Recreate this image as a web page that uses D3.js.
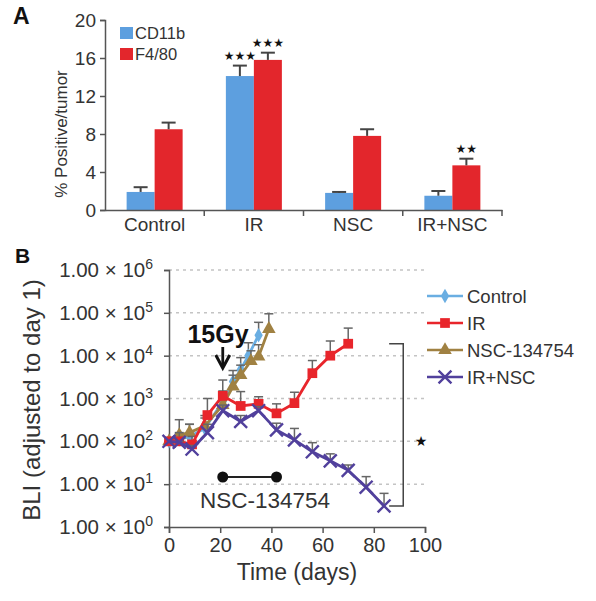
<!DOCTYPE html>
<html>
<head>
<meta charset="utf-8">
<script src="https://cdn.jsdelivr.net/npm/d3@7"></script>
<style>
html,body{margin:0;padding:0;background:#fff;}
svg{display:block;font-family:"Liberation Sans",Arial,Helvetica,sans-serif;}
</style>
</head>
<body>
<svg id="chart" width="596" height="601"></svg>
<script>
// ---------- Panel A data ----------
const categories = ["Control", "IR", "NSC", "IR+NSC"];
const seriesA = ["CD11b", "F4/80"];
const cd11b = [1.9, 14.1, 1.8, 1.5];
const cd11bErr = [0.5, 1.1, 0.1, 0.5];
const f480 = [8.5, 15.8, 7.8, 4.7];
const f480Err = [0.7, 0.76, 0.7, 0.7];
const yTicksA = [0, 4, 8, 12, 16, 20];
const starsA = [
  {cat: "IR", series: "CD11b", text: "★★★"},
  {cat: "IR", series: "F4/80", text: "★★★"},
  {cat: "IR+NSC", series: "F4/80", text: "★★"}
];

// ---------- Panel B data ----------
const seriesB = ["Control", "IR", "NSC-134754", "IR+NSC"];
const ctrlDays = [0, 4, 8, 14, 21, 25, 28, 31, 35];
const ctrlVals = [100, 110, 130, 200, 850, 2500, 4700, 10000, 30000];
const ctrlErr  = [100, 150, 250, 350, 1500, 4500, 9000, 20000, 60000];
const irDays = [0, 4, 9, 15, 21, 28, 35, 42, 49, 56, 63, 70];
const irVals = [100, 100, 85, 410, 1150, 670, 750, 450, 780, 3900, 10000, 19000];
const irErr  = [100, 160, 130, 1000, 2700, 1450, 1100, 750, 1400, 7700, 22000, 44000];
const nscDays = [0, 4, 8, 14, 21, 25, 28, 32, 35, 39];
const nscVals = [100, 140, 160, 230, 700, 1900, 3500, 7500, 9500, 42000];
const nscErr  = [100, 320, 250, 400, 1300, 3500, 6000, 13000, 18000, 95000];
const irnscDays = [0, 4, 9, 15, 21, 28, 35, 42, 49, 56, 63, 70, 77, 84];
const irnscVals = [100, 95, 66, 160, 520, 290, 520, 185, 108, 57, 35, 21, 8.5, 3.1];
const irnscErr  = [100, 100, 80, 250, 700, 400, 650, 265, 200, 93, 51, 28, 15, 6.1];
const xTicksB = [0, 20, 40, 60, 80, 100];
const yExpB = [0, 1, 2, 3, 4, 5, 6];
const nscTreatment = [21, 42];
const irradiationDay = 21;

const svg = d3.select("#chart");
const axisCol = "#555";
const textCol = "#333";

// =============== PANEL A =================
const xA = d3.scaleBand().domain(categories).range([105, 502]);
const xA1 = d3.scaleBand().domain(seriesA).range([-28, 28]);
const yA = d3.scaleLinear().domain([0, 20]).range([210, 20]);
const colA = {"CD11b": "#5d9fdf", "F4/80": "#e3262c"};
const dataA = [];
categories.forEach((c, i) => {
  dataA.push({cat: c, series: "CD11b", v: cd11b[i], e: cd11bErr[i]});
  dataA.push({cat: c, series: "F4/80", v: f480[i], e: f480Err[i]});
});

const gA = svg.append("g");
gA.selectAll("rect.bar").data(dataA).enter().append("rect")
  .attr("x", d => xA(d.cat) + xA.bandwidth() / 2 + xA1(d.series))
  .attr("width", xA1.bandwidth())
  .attr("y", d => yA(d.v))
  .attr("height", d => yA(0) - yA(d.v))
  .attr("fill", d => colA[d.series]);

// error bars
dataA.forEach(d => {
  const cx = xA(d.cat) + xA.bandwidth() / 2 + xA1(d.series) + xA1.bandwidth() / 2;
  gA.append("line").attr("x1", cx).attr("x2", cx).attr("y1", yA(d.v)).attr("y2", yA(d.v + d.e))
    .attr("stroke", "#444").attr("stroke-width", 2);
  gA.append("line").attr("x1", cx - 7).attr("x2", cx + 7).attr("y1", yA(d.v + d.e)).attr("y2", yA(d.v + d.e))
    .attr("stroke", "#444").attr("stroke-width", 2);
});

// stars
starsA.forEach(s => {
  const d = dataA.find(q => q.cat === s.cat && q.series === s.series);
  const cx = xA(d.cat) + xA.bandwidth() / 2 + xA1(d.series) + xA1.bandwidth() / 2;
  gA.append("text").attr("x", cx).attr("y", yA(d.v + d.e) - 6)
    .attr("text-anchor", "middle").attr("font-family", "DejaVu Sans")
    .attr("font-size", 12).attr("fill", "#111").text(s.text);
});

// y axis A
const yAxisA = gA.append("g").attr("transform", "translate(105,0)")
  .call(d3.axisLeft(yA).tickValues(yTicksA).tickSize(5).tickPadding(4));
yAxisA.select(".domain").attr("stroke", axisCol).attr("stroke-width", 1.5);
yAxisA.selectAll(".tick line").attr("stroke", axisCol).attr("stroke-width", 1.5);
yAxisA.selectAll(".tick text").attr("font-size", 19).attr("fill", textCol)
  .attr("font-family", "Liberation Sans, Arial, sans-serif");

// x axis A
const xAxisA = gA.append("g").attr("transform", "translate(0,210)")
  .call(d3.axisBottom(xA).tickSize(0).tickPadding(8));
xAxisA.select(".domain").attr("stroke", axisCol).attr("stroke-width", 1.5);
xAxisA.selectAll(".tick text").attr("font-size", 19).attr("fill", textCol)
  .attr("font-family", "Liberation Sans, Arial, sans-serif");
categories.forEach((c, i) => {
  if (i > 0) {
    gA.append("line").attr("x1", xA(c)).attr("x2", xA(c)).attr("y1", 210).attr("y2", 216)
      .attr("stroke", axisCol).attr("stroke-width", 1.5);
  }
});
gA.append("line").attr("x1", 502).attr("x2", 502).attr("y1", 210).attr("y2", 216)
  .attr("stroke", axisCol).attr("stroke-width", 1.5);

// y label A
gA.append("text").attr("transform", "translate(67,134) rotate(-90)")
  .attr("text-anchor", "middle").attr("font-size", 17).attr("fill", textCol)
  .text("% Positive/tumor");

// legend A
seriesA.forEach((s, i) => {
  const y = 27 + i * 21;
  gA.append("rect").attr("x", 120).attr("y", y).attr("width", 13).attr("height", 12).attr("fill", colA[s]);
  gA.append("text").attr("x", 135).attr("y", y + 11.5).attr("font-size", 16.5).attr("fill", textCol).text(s);
});

// panel label A
svg.append("text").attr("x", 13).attr("y", 24).attr("font-size", 23).attr("font-weight", "bold")
  .attr("fill", "#111").text("A");

// =============== PANEL B =================
const xB = d3.scaleLinear().domain([0, 100]).range([169, 425]);
const yB = d3.scaleLog().domain([1, 1e6]).range([527, 270]);
const gB = svg.append("g");

// gridlines
yExpB.filter(e => e > 0).forEach(e => {
  gB.append("line").attr("x1", 169).attr("x2", 425).attr("y1", yB(Math.pow(10, e))).attr("y2", yB(Math.pow(10, e)))
    .attr("stroke", "#c4c4c4").attr("stroke-width", 1.5).attr("stroke-dasharray", "3,4");
});

// y axis B
const yAxisB = gB.append("g").attr("transform", "translate(169,0)")
  .call(d3.axisLeft(yB).tickValues(yExpB.map(e => Math.pow(10, e))).tickSize(5).tickFormat(""));
yAxisB.select(".domain").attr("stroke", axisCol).attr("stroke-width", 1.5);
yAxisB.selectAll(".tick line").attr("stroke", axisCol).attr("stroke-width", 1.5);
yExpB.forEach(e => {
  const t = gB.append("text").attr("x", 153).attr("y", yB(Math.pow(10, e)) + 7)
    .attr("text-anchor", "end").attr("font-size", 20.5).attr("fill", textCol);
  t.append("tspan").text("1.00 × 10");
  t.append("tspan").attr("font-size", 14).attr("dy", -8).text(String(e));
});

// x axis B
const xAxisB = gB.append("g").attr("transform", "translate(0,527)")
  .call(d3.axisBottom(xB).tickValues(xTicksB).tickSize(6).tickPadding(5));
xAxisB.select(".domain").attr("stroke", axisCol).attr("stroke-width", 1.5);
xAxisB.selectAll(".tick line").attr("stroke", axisCol).attr("stroke-width", 1.5);
xAxisB.selectAll(".tick text").attr("font-size", 20).attr("fill", textCol)
  .attr("font-family", "Liberation Sans, Arial, sans-serif");

// axis titles
gB.append("text").attr("x", 297).attr("y", 580).attr("text-anchor", "middle")
  .attr("font-size", 23).attr("fill", textCol).text("Time (days)");
gB.append("text").attr("transform", "translate(40,400) rotate(-90)")
  .attr("text-anchor", "middle").attr("font-size", 24).attr("fill", textCol)
  .text("BLI (adjusted to day 1)");

// series
const seriesData = [
  {name: "Control", days: ctrlDays, vals: ctrlVals, err: ctrlErr, color: "#6aaee2", sym: d3.symbolDiamond, size: 60, fill: true},
  {name: "NSC-134754", days: nscDays, vals: nscVals, err: nscErr, color: "#a08142", sym: d3.symbolTriangle, size: 80, fill: true},
  {name: "IR", days: irDays, vals: irVals, err: irErr, color: "#e8252b", sym: d3.symbolSquare, size: 95, fill: true},
  {name: "IR+NSC", days: irnscDays, vals: irnscVals, err: irnscErr, color: "#51409c", sym: d3.symbolX, size: 110, fill: false}
];
const line = d3.line().x(d => xB(d.d)).y(d => yB(d.v));

seriesData.forEach(s => {
  const pts = s.days.map((d, i) => ({d: d, v: s.vals[i], e: s.err[i]}));
  const g = gB.append("g");
  pts.filter(p => p.e > p.v).forEach(p => {
    g.append("line").attr("x1", xB(p.d)).attr("x2", xB(p.d)).attr("y1", yB(p.v)).attr("y2", yB(p.e))
      .attr("stroke", "#666").attr("stroke-width", 1.5);
    g.append("line").attr("x1", xB(p.d) - 4.5).attr("x2", xB(p.d) + 4.5).attr("y1", yB(p.e)).attr("y2", yB(p.e))
      .attr("stroke", "#666").attr("stroke-width", 1.5);
  });
  g.append("path").datum(pts).attr("d", line).attr("fill", "none")
    .attr("stroke", s.color).attr("stroke-width", 2.8);
  g.selectAll("path.mk").data(pts).enter().append("path")
    .attr("transform", p => `translate(${xB(p.d)},${yB(p.v)})`)
    .attr("d", d3.symbol(s.sym, s.size))
    .attr("fill", s.fill ? s.color : "none")
    .attr("stroke", s.color).attr("stroke-width", s.fill ? 0 : 2.4);
});

// legend B
const legendOrder = ["Control", "IR", "NSC-134754", "IR+NSC"];
legendOrder.forEach((n, i) => {
  const s = seriesData.find(q => q.name === n);
  const y = 296 + i * 27;
  gB.append("line").attr("x1", 427).attr("x2", 463).attr("y1", y).attr("y2", y)
    .attr("stroke", s.color).attr("stroke-width", 2.6);
  gB.append("path").attr("transform", `translate(445,${y})`).attr("d", d3.symbol(s.sym, s.size))
    .attr("fill", s.fill ? s.color : "none").attr("stroke", s.color).attr("stroke-width", s.fill ? 0 : 2.4);
  gB.append("text").attr("x", 467).attr("y", y + 6.5).attr("font-size", 18.5).attr("fill", textCol).text(n);
});

// significance bracket
const lastIr = irVals[irVals.length - 1];
const lastIrnsc = irnscVals[irnscVals.length - 1];
gB.append("path")
  .attr("d", `M${xB(86)},${yB(lastIr)} H${xB(91.5)} V${yB(lastIrnsc)} H${xB(86)}`)
  .attr("fill", "none").attr("stroke", "#444").attr("stroke-width", 1.5);
gB.append("text").attr("x", 421).attr("y", yB(100) + 5).attr("text-anchor", "middle")
  .attr("font-family", "DejaVu Sans").attr("font-size", 14).attr("fill", "#111").text("★");

// 15Gy arrow
const ax = xB(irradiationDay);
gB.append("text").attr("x", 218).attr("y", 343).attr("text-anchor", "middle")
  .attr("font-size", 25).attr("font-weight", "bold").attr("fill", "#111").text("15Gy");
gB.append("line").attr("x1", ax).attr("x2", ax).attr("y1", 347).attr("y2", 366)
  .attr("stroke", "#111").attr("stroke-width", 2.8);
gB.append("path").attr("d", `M${ax - 7},${355} L${ax},${368} L${ax + 7},${355}`)
  .attr("fill", "none").attr("stroke", "#111").attr("stroke-width", 3);

// NSC treatment bar
const ty = 477;
gB.append("line").attr("x1", xB(nscTreatment[0])).attr("x2", xB(nscTreatment[1])).attr("y1", ty).attr("y2", ty)
  .attr("stroke", "#222").attr("stroke-width", 2);
nscTreatment.forEach(d => {
  gB.append("circle").attr("cx", xB(d)).attr("cy", ty).attr("r", 5.5).attr("fill", "#111");
});
gB.append("text").attr("x", 265).attr("y", 508).attr("text-anchor", "middle")
  .attr("font-size", 22.5).attr("fill", textCol).text("NSC-134754");

// panel label B
svg.append("text").attr("x", 15).attr("y", 263).attr("font-size", 21).attr("font-weight", "bold")
  .attr("fill", "#111").text("B");
</script>
</body>
</html>
